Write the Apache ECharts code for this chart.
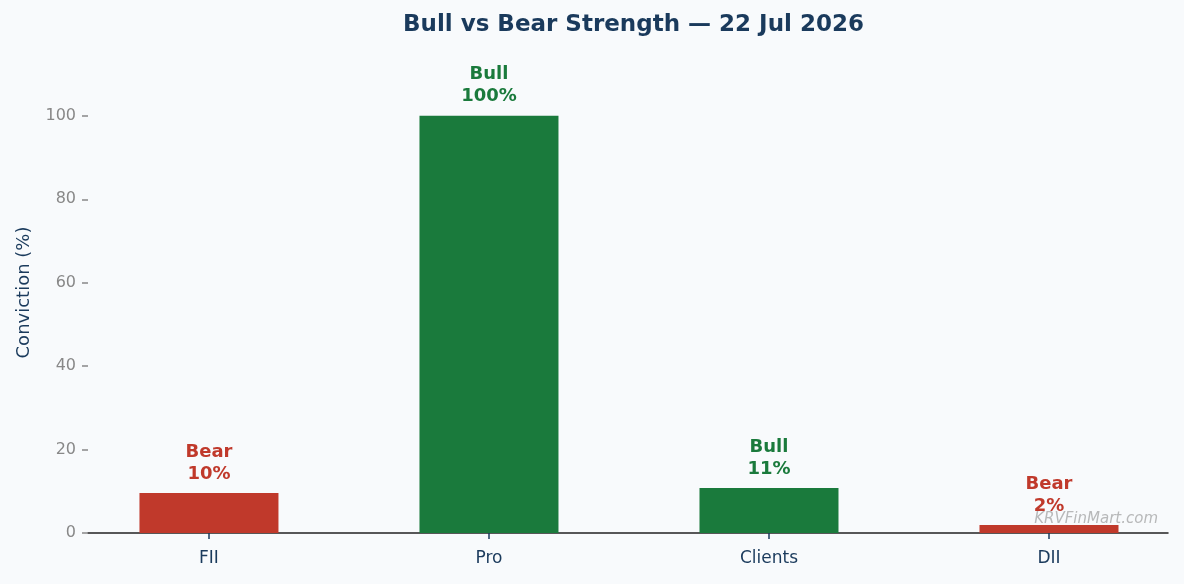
<!DOCTYPE html>
<html>
<head>
<meta charset="utf-8">
<script src="https://cdn.jsdelivr.net/npm/echarts@6/dist/echarts.min.js"></script>
<style>
  html, body { margin: 0; padding: 0; background: #f8fafc; }
  #main { width: 1184px; height: 584px; }
</style>
</head>
<body>
<div id="main"></div>
<script>
// data
var categories = ['FII', 'Pro', 'Clients', 'DII'];
var conviction = [9.6, 100, 10.8, 1.9];
var stance = ['Bear', 'Bull', 'Bull', 'Bear'];
var shownPct = [10, 100, 11, 2];
var yTicks = [0, 20, 40, 60, 80, 100];
var xPos = [0, 1, 2, 3];

var RED = '#c0392b';
var GREEN = '#1a7a3c';
var NAVY = '#1a3a5c';
var FONT = "'DejaVu Sans', sans-serif";

var chart = echarts.init(document.getElementById('main'));

var barData = conviction.map(function (v, i) {
    var c = stance[i] === 'Bull' ? GREEN : RED;
    return {
        value: [xPos[i], v],
        itemStyle: { color: c },
        label: {
            color: c,
            formatter: stance[i] + '\n' + shownPct[i] + '%'
        }
    };
});

var option = {
    backgroundColor: '#f8fafc',
    textStyle: { fontFamily: FONT },
    title: {
        text: 'Bull vs Bear Strength — 22 Jul 2026',
        left: 398,
        top: 9,
        textStyle: { color: NAVY, fontSize: 23, fontWeight: 'bold', fontFamily: FONT }
    },
    grid: { left: 88, right: 16, top: 52, bottom: 51 },
    xAxis: {
        type: 'value',
        min: -0.432,
        max: 3.425,
        axisLine: { show: true, onZero: false, lineStyle: { color: '#222', width: 1.5 } },
        axisTick: { show: true, customValues: xPos, length: 6, lineStyle: { color: NAVY, width: 1.5 } },
        axisLabel: {
            customValues: xPos,
            color: NAVY, fontSize: 17, margin: 17, fontFamily: FONT,
            formatter: function (v) { return categories[Math.round(v)] || ''; }
        },
        splitLine: { show: false }
    },
    yAxis: {
        type: 'value',
        min: 0,
        max: 115.3,
        name: 'Conviction (%)',
        nameLocation: 'middle',
        nameGap: 55,
        nameTextStyle: { color: NAVY, fontSize: 18, fontFamily: FONT },
        axisLine: { show: false, onZero: false },
        axisTick: { show: true, customValues: yTicks, length: 6, lineStyle: { color: '#888', width: 1.5 } },
        axisLabel: {
            customValues: yTicks,
            color: '#888', fontSize: 16, margin: 12, fontFamily: FONT
        },
        splitLine: { show: false }
    },
    series: [{
        type: 'bar',
        data: barData,
        barWidth: 139,
        label: {
            show: true,
            position: 'top',
            distance: 8,
            fontSize: 18,
            fontWeight: 'bold',
            lineHeight: 22,
            fontFamily: FONT
        }
    }],
    graphic: [{
        type: 'text',
        right: 26,
        top: 512,
        z: 100,
        style: {
            text: 'KRVFinMart.com',
            fill: 'rgba(120,120,120,0.5)',
            font: "italic 15px 'DejaVu Sans'"
        }
    }]
};

chart.setOption(option);
</script>
</body>
</html>
